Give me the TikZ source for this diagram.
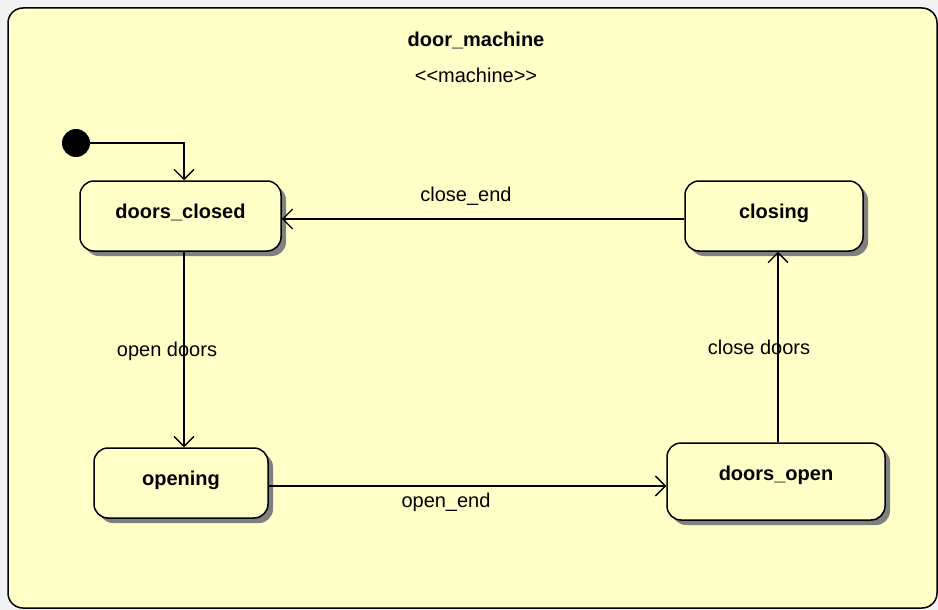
\documentclass[tikz,border=0pt]{standalone}
\usepackage{fontspec}
\setmainfont{Liberation Sans}
\usetikzlibrary{calc,arrows.meta,shapes,shadows,positioning}
\definecolor{machinefill}{RGB}{255,255,200}
\definecolor{pagegray}{RGB}{242,242,242}

\begin{document}
\begin{tikzpicture}[x=1pt,y=-1pt,font=\fontsize{20}{24}\selectfont,
  state/.style={draw,line width=1.5pt,rounded corners=14pt,fill=machinefill,font=\fontsize{20}{24}\selectfont\bfseries,inner sep=0pt,text height=37pt,text depth=33pt,drop shadow={shadow xshift=5pt,shadow yshift=-5pt,fill=gray,opacity=1}},
  trans/.style={line width=1.3pt,-{Straight Barb[length=10pt,width=20pt]}}]
\fill[pagegray] (0,0) rectangle (938,610);
\draw[line width=1.5pt,rounded corners=15pt,fill=machinefill] (8,8) rectangle (937,608);
\node (title) at (476,40) {\bfseries door\_machine};
\node (stereo) at (476,75) {<{}<machine>{}>};
\node[state,minimum width=201pt] (doors_closed) at (180.5,216) {doors\_closed};
\node[state,minimum width=178pt] (closing) at (774,216) {closing};
\node[state,minimum width=174pt] (opening) at (181,483) {opening};
\node[state,minimum width=218pt,text depth=40pt] (doors_open) at (776,481.5) {doors\_open};
\node[circle,fill,minimum size=28pt,inner sep=0pt] (init) at (76,143) {};
\draw[trans] (init.east) -| ([xshift=3.5pt]doors_closed.north);
\draw[trans] ([yshift=-3pt]closing.west) -- ([yshift=-3pt]doors_closed.east)
  node[midway,xshift=-17pt,yshift=23pt]{close\_end};
\draw[trans] ([xshift=3.5pt]doors_closed.south) -- ([xshift=3.5pt]doors_closed.south |- opening.north)
  node[midway,xshift=-17pt,yshift=-1.5pt]{open doors};
\draw[trans] ([yshift=-3pt]opening.east) -- ([yshift=-3pt]opening.east -| doors_open.west)
  node[midway,xshift=-21.5pt,yshift=-16pt]{open\_end};
\draw[trans] ([xshift=2pt]doors_open.north) -- ([xshift=2pt]doors_open.north |- closing.south)
  node[midway,xshift=-19pt]{close doors};
\end{tikzpicture}
\end{document}
